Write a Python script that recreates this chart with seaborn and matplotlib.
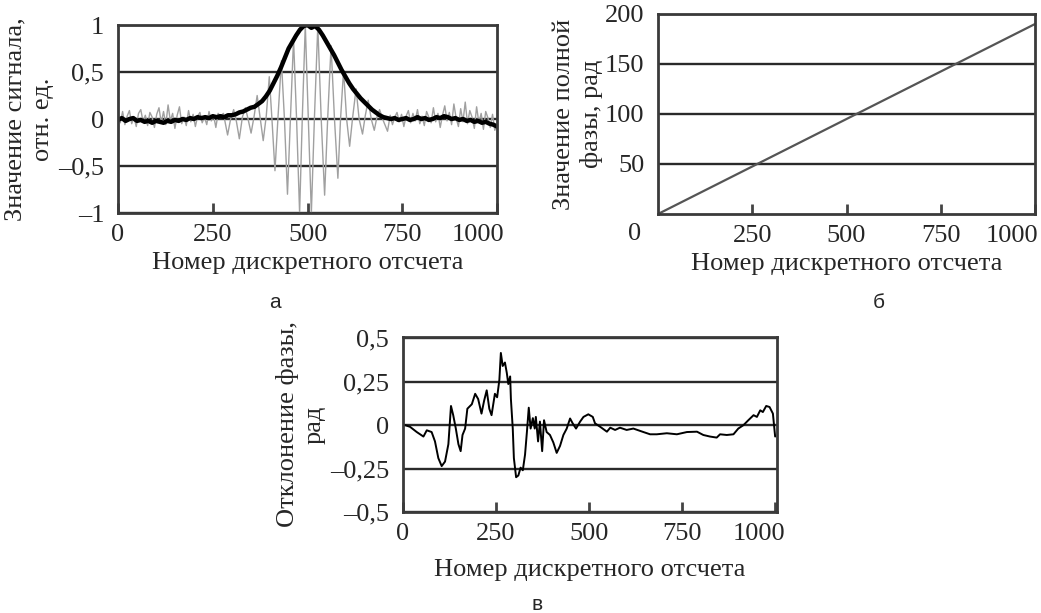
import numpy as np
import matplotlib
matplotlib.use("Agg")
import matplotlib.pyplot as plt
import matplotlib.transforms as mtransforms
import seaborn as sns

# ---- data ----

# panel a: envelope (thick black)
env_n = np.arange(0, 1001, 10)
env_v = [-0.01, 0.01, -0.02, 0.00, 0.01, -0.02, -0.01, -0.03, -0.02, -0.04,
         -0.02, -0.03, -0.04, -0.02, -0.03, -0.01, -0.02, 0.00, -0.01, 0.01,
         0.00, 0.02, 0.01, 0.02, 0.01, 0.03, 0.02, 0.03, 0.02, 0.04,
         0.04, 0.05, 0.07, 0.08, 0.10, 0.12, 0.13, 0.16, 0.19, 0.24,
         0.30, 0.38, 0.46, 0.55, 0.65, 0.75, 0.82, 0.89, 0.95, 0.99,
         1.00, 0.97, 0.99, 0.95, 0.89, 0.82, 0.75, 0.68, 0.60, 0.52,
         0.45, 0.38, 0.32, 0.27, 0.22, 0.18, 0.14, 0.10, 0.07, 0.04,
         0.02, 0.01, 0.00, 0.01, -0.01, 0.00, 0.01, -0.01, 0.00, 0.02,
         0.00, 0.01, -0.01, 0.00, 0.02, 0.01, 0.03, 0.02, 0.00, 0.01,
         -0.01, 0.00, -0.02, -0.01, -0.03, -0.02, -0.04, -0.03, -0.05, -0.06,
         -0.08]

# panel a: noisy oscillating signal (thin gray)
sig_left_n = np.arange(0, 265, 6)
sig_left_v = [0.05, -0.04, 0.08, -0.06, 0.03, 0.09, -0.05, 0.02, -0.08, 0.06,
              0.10, -0.03, 0.04, -0.07, 0.07, 0.02, -0.09, 0.05, 0.12, -0.04,
              0.08, -0.06, 0.15, -0.02, 0.06, -0.10, 0.04, 0.13, -0.05, 0.02,
              -0.07, 0.09, -0.03, 0.05, -0.08, 0.03, 0.07, -0.04, 0.02, -0.06,
              0.08, -0.02, 0.04, -0.09, 0.06]
sig_mid_n = [270, 278, 289, 297, 305, 312, 320, 328, 336, 343, 351, 359, 367, 375,
             383, 391, 399, 406, 414, 422, 431, 439, 447, 455, 463, 471, 479, 486,
             494, 502, 510, 518, 527, 536, 545, 553, 562, 571, 580, 587, 595, 603,
             611, 619, 628, 636, 645, 652, 660, 668, 676, 683, 690, 700, 711]
sig_mid_v = [0.03, 0.06, -0.17, 0.00, 0.10, -0.02, -0.21, 0.02, 0.12, 0.00, -0.15, 0.03,
             0.25, 0.01, -0.23, 0.03, 0.45, 0.00, -0.55, 0.02, 0.62, 0.00, -0.80, 0.02,
             0.85, 0.00, -1.00, 0.00, 1.00, 0.00, -1.00, 0.00, 0.99, 0.00, -0.81, 0.00,
             0.78, 0.00, -0.63, 0.00, 0.52, 0.00, -0.29, 0.02, 0.32, 0.00, -0.16, 0.03,
             0.20, 0.00, -0.12, 0.02, 0.10, -0.02, -0.13]
sig_right_n = np.arange(718, 1001, 6)
sig_right_v = [0.04, -0.06, 0.02, 0.07, -0.03, 0.05, -0.08, 0.03, 0.09, -0.04,
               0.06, -0.02, 0.10, -0.05, 0.03, -0.07, 0.08, 0.02, -0.04, 0.12,
               -0.03, 0.06, -0.09, 0.04, 0.14, -0.02, 0.07, -0.06, 0.16, 0.01,
               -0.08, 0.11, -0.03, 0.18, -0.05, 0.09, 0.02, -0.10, 0.13, -0.04,
               0.06, -0.11, 0.08, 0.01, -0.09, 0.05, -0.12, -0.06]
sig_n = np.concatenate([sig_left_n, sig_mid_n, sig_right_n])
sig_v = np.concatenate([sig_left_v, sig_mid_v, sig_right_v])

# panel b: full phase
phase_n = [0, 1000]
phase_v = [0, 190]

# panel c: phase deviation
dev_n = [0, 5, 19, 37, 55, 64, 77, 86, 95, 104, 113, 122, 129, 135, 142, 149, 155,
         160, 167, 173, 185, 194, 202, 211, 218, 225, 232, 238, 247, 253, 259, 263,
         268, 274, 279, 283, 288, 290, 295, 298, 304, 310, 316, 322, 328, 333, 338,
         343, 349, 354, 357, 363, 368, 374, 379, 386, 395, 404, 413, 422, 431, 440,
         449, 456, 465, 476, 485, 498, 510, 516, 530, 548, 557, 570, 583, 601, 619,
         646, 664, 682, 709, 736, 763, 790, 807, 825, 843, 852, 870, 888, 901, 915,
         928, 942, 951, 960, 967, 976, 985, 994, 1000]
dev_v = [0.00, 0.00, -0.01, -0.04, -0.066, -0.03, -0.04, -0.094, -0.19, -0.236, -0.21,
         -0.11, 0.11, 0.057, -0.02, -0.11, -0.15, -0.057, -0.02, 0.094, 0.12, 0.18,
         0.15, 0.066, 0.14, 0.20, 0.094, 0.057, 0.18, 0.16, 0.26, 0.415, 0.34, 0.36,
         0.30, 0.236, 0.28, 0.15, -0.02, -0.19, -0.30, -0.29, -0.245, -0.26, -0.17,
         -0.04, 0.10, -0.02, 0.04, -0.02, 0.047, -0.094, 0.02, -0.15, 0.028, -0.04,
         -0.057, -0.10, -0.16, -0.12, -0.057, -0.02, 0.038, 0.01, -0.02, 0.02, 0.047,
         0.062, 0.047, 0.01, -0.01, -0.038, -0.015, -0.028, -0.015, -0.028, -0.02,
         -0.04, -0.053, -0.053, -0.047, -0.053, -0.04, -0.038, -0.057, -0.066, -0.072,
         -0.053, -0.057, -0.053, -0.02, 0.00, 0.028, 0.057, 0.047, 0.085, 0.075, 0.11,
         0.104, 0.066, -0.066]

xlabel = 'Номер дискретного отсчета'

# ---- plotting ----
sns.set_theme(style='white')
plt.rcParams['font.family'] = ['Liberation Serif', 'DejaVu Serif']

FS = 19
fig = plt.figure(figsize=(10.41, 6.13), dpi=100)
ax_a = fig.add_axes([0.1134, 0.6525, 0.3641, 0.3067])
ax_b = fig.add_axes([0.6321, 0.6509, 0.3622, 0.3263])
ax_c = fig.add_axes([0.3871, 0.1648, 0.3593, 0.2855])


def style_axes(ax, yticks, ylabels, xticks, xlabels, last_shift, xlabelpad=4):
    ax.set_yticks(yticks)
    ax.set_yticklabels(ylabels)
    ax.set_xticks(xticks)
    ax.set_xticklabels(xlabels)
    ax.yaxis.grid(True, color='#2a2a2a', linewidth=1.7)
    ax.xaxis.grid(False)
    ax.set_axisbelow(True)
    for sp in ax.spines.values():
        sp.set_visible(True)
        sp.set_color('#3a3a3a')
        sp.set_linewidth(2.0)
    ax.tick_params(axis='x', direction='in', length=7, width=2, color='#444444',
                   pad=8, labelsize=FS, bottom=True)
    ax.tick_params(axis='y', length=0, pad=10, labelsize=FS, left=True)
    ax.set_xlabel(xlabel, fontsize=FS, labelpad=xlabelpad)
    # last x label sits a little to the left, flush with the frame
    lab = ax.get_xticklabels()[-1]
    lab.set_horizontalalignment('right')
    lab.set_transform(lab.get_transform() +
                      mtransforms.ScaledTranslation(last_shift / 100, 0, fig.dpi_scale_trans))


# panel a
sns.lineplot(x=sig_n, y=sig_v, ax=ax_a, color='#a0a0a0', linewidth=1.0)
sns.lineplot(x=env_n, y=env_v, ax=ax_a, color='black', linewidth=3.2)
ax_a.set_xlim(0, 1000)
ax_a.set_ylim(-1, 1)
style_axes(ax_a, [-1, -0.5, 0, 0.5, 1], ['\u20131', '\u20130,5', '0', '0,5', '1'],
           [0, 250, 500, 750, 1000], ['0', '250', '500', '750', '1000'], 7)
ax_a.set_ylabel('Значение сигнала,\nотн. ед.', fontsize=FS, labelpad=3, linespacing=1.3)

# panel b
sns.lineplot(x=phase_n, y=phase_v, ax=ax_b, color='#555555', linewidth=1.6)
ax_b.set_xlim(0, 1000)
ax_b.set_ylim(0, 200)
style_axes(ax_b, [50, 100, 150, 200], ['50', '100', '150', '200'],
           [250, 500, 750, 1000], ['250', '500', '750', '1000'], 3)
ax_b.set_ylabel('Значение полной\nфазы, рад', fontsize=FS, labelpad=1, linespacing=1.3)
ax_b.text(-0.061, -0.10, '0', transform=ax_b.transAxes, fontsize=FS,
          ha='center', va='center')

# panel c
sns.lineplot(x=dev_n, y=dev_v, ax=ax_c, color='black', linewidth=1.4)
ax_c.set_xlim(0, 1005)
ax_c.set_ylim(-0.482, 0.507)
style_axes(ax_c, [-0.5, -0.25, 0, 0.25, 0.5],
           ['\u20130,5', '\u20130,25', '0', '0,25', '0,5'],
           [0, 250, 500, 750, 1000], ['0', '250', '500', '750', '1000'], 10,
           xlabelpad=10)
ax_c.set_ylabel('Отклонение фазы,\nрад', fontsize=FS, labelpad=3, linespacing=1.3)

# captions
cap = dict(fontsize=15, family=['Liberation Sans', 'DejaVu Sans'], ha='center', va='center')
fig.text(275 / 1041, 1 - 302 / 613, 'а', **cap)
fig.text(879 / 1041, 1 - 302 / 613, 'б', **cap)
fig.text(537 / 1041, 1 - 605 / 613, 'в', **cap)

plt.savefig('out.png', dpi=100)
plt.close()
